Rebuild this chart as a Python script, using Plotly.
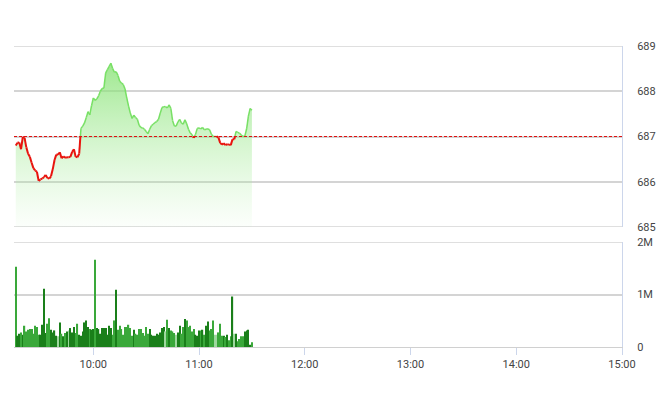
import plotly.graph_objects as go
import pandas as pd

# ---------------- data ----------------
DAY = "2024-01-02 "
START_TIME = "09:16"
REF_PRICE = 687.0

price = [
    686.80, 686.86, 686.87, 686.72, 686.99, 686.97, 686.76, 686.62, 686.55, 686.42,
    686.30, 686.25, 686.22, 686.02, 686.05, 686.07, 686.10, 686.15, 686.08, 686.07,
    686.12, 686.28, 686.48, 686.60, 686.60, 686.65, 686.52, 686.56, 686.53, 686.54,
    686.54, 686.55, 686.66, 686.72, 686.55, 686.54, 686.62, 687.18, 687.23, 687.30,
    687.42, 687.55, 687.48, 687.68, 687.85, 687.80, 687.83, 687.90, 688.00, 688.06,
    688.07, 688.40, 688.48, 688.55, 688.62, 688.50, 688.42, 688.43, 688.35, 688.22,
    688.18, 688.15, 688.05, 687.85, 687.67, 687.52, 687.40, 687.47, 687.42, 687.38,
    687.25, 687.20, 687.19, 687.16, 687.11, 687.06, 687.16, 687.24, 687.27, 687.31,
    687.33, 687.38, 687.52, 687.64, 687.66, 687.66, 687.63, 687.70, 687.62, 687.35,
    687.23, 687.23, 687.32, 687.38, 687.30, 687.27, 687.37, 687.28, 687.16, 687.08,
    687.04, 686.97, 687.05, 687.18, 687.19, 687.17, 687.20, 687.15, 687.16, 687.17,
    687.15, 687.05, 687.00, 687.00, 687.00, 686.98, 686.86, 686.82, 686.85, 686.81,
    686.83, 686.82, 686.81, 686.94, 686.94, 687.11, 687.09, 687.07, 687.03, 687.00,
    687.01, 687.17, 687.45, 687.62, 687.58,
]

volume = [
    1530000, 215000, 253000, 278000, 234000, 405000, 297000, 329000, 342000, 342000,
    253000, 405000, 380000, 234000, 234000, 424000, 1110000, 266000, 443000, 550000,
    329000, 278000, 316000, 215000, 203000, 468000, 253000, 203000, 266000, 297000,
    316000, 361000, 278000, 380000, 266000, 443000, 234000, 215000, 297000, 468000,
    506000, 380000, 342000, 329000, 342000, 1660000, 361000, 342000, 253000, 361000,
    361000, 361000, 234000, 405000, 361000, 234000, 506000, 1090000, 329000, 405000,
    342000, 234000, 380000, 380000, 424000, 361000, 215000, 329000, 253000, 234000,
    342000, 342000, 266000, 215000, 380000, 253000, 342000, 234000, 215000, 215000,
    253000, 234000, 278000, 361000, 380000, 297000, 519000, 361000, 316000, 297000,
    266000, 234000, 278000, 405000, 253000, 380000, 532000, 506000, 380000, 405000,
    297000, 342000, 234000, 215000, 316000, 316000, 329000, 234000, 405000, 487000,
    316000, 342000, 506000, 234000, 234000, 278000, 443000, 215000, 215000, 190000,
    234000, 127000, 203000, 962000, 253000, 253000, 108000, 152000, 203000, 203000,
    297000, 316000, 329000, 44000, 89000,
]

x_ticks = ["10:00", "11:00", "12:00", "13:00", "14:00", "15:00"]
x_range = ["09:15", "15:00"]
price_ticks = [685, 686, 687, 688, 689]
vol_ticks = [0, 1000000, 2000000]
vol_tick_text = ["0", "1M", "2M"]

# ---------------- derived ----------------
times = pd.date_range(DAY + START_TIME, periods=len(price), freq="1min")
tms = [t.timestamp() for t in times]


def split_segments(ts, ys, ref):
    """Split series into above/below reference segments, inserting crossings."""
    up_x, up_y, dn_x, dn_y = [], [], [], []
    for i in range(len(ys) - 1):
        x0, x1, y0, y1 = ts[i], ts[i + 1], ys[i], ys[i + 1]
        pts = [(x0, y0)]
        if (y0 - ref) * (y1 - ref) < 0:
            f = (ref - y0) / (y1 - y0)
            pts.append((x0 + f * (x1 - x0), ref))
        pts.append((x1, y1))
        for a, b in zip(pts[:-1], pts[1:]):
            mid = (a[1] + b[1]) / 2
            tx, ty = (up_x, up_y) if mid >= ref else (dn_x, dn_y)
            tx += [pd.Timestamp(a[0], unit="s"), pd.Timestamp(b[0], unit="s"), None]
            ty += [a[1], b[1], None]
    return up_x, up_y, dn_x, dn_y


up_x, up_y, dn_x, dn_y = split_segments(tms, price, REF_PRICE)

bar_colors = []
for i, p in enumerate(price):
    prev = price[i - 1] if i > 0 else REF_PRICE
    if p > prev:
        bar_colors.append("#1a7f1a")
    elif p < prev:
        bar_colors.append("#3aa83a")
    else:
        bar_colors.append("#9ed89e")

GRID = "#d4d4d4"

fig = go.Figure()

# area fill
fig.add_trace(go.Scatter(
    x=times, y=price, mode="lines", line=dict(width=0, color="rgba(0,0,0,0)"),
    fill="tozeroy",
    fillgradient=dict(type="vertical", start=685, stop=688.7,
                      colorscale=[[0, "rgba(180,240,170,0.05)"],
                                  [1, "rgba(130,225,110,0.8)"]]),
    hoverinfo="skip", showlegend=False, xaxis="x", yaxis="y",
))
fig.add_trace(go.Scatter(x=up_x, y=up_y, mode="lines",
                         line=dict(color="#78e065", width=1.5),
                         showlegend=False, xaxis="x", yaxis="y"))
fig.add_trace(go.Scatter(x=dn_x, y=dn_y, mode="lines",
                         line=dict(color="#e8140e", width=2),
                         showlegend=False, xaxis="x", yaxis="y"))

fig.add_trace(go.Bar(x=times, y=volume, marker=dict(color=bar_colors, line=dict(width=0)),
                     showlegend=False, xaxis="x2", yaxis="y2"))

# panel border gridlines at range edges (plotly skips edge gridlines)
for yref, yv in [("y", price_ticks[0]), ("y", price_ticks[-1]), ("y2", vol_ticks[-1])]:
    fig.add_shape(type="line", xref="x domain", x0=0, x1=1, yref=yref,
                  y0=yv, y1=yv, line=dict(color=GRID, width=1.5), layer="below")

fig.add_shape(type="line", xref="x domain", x0=0, x1=1, yref="y",
              y0=REF_PRICE, y1=REF_PRICE,
              line=dict(color="#e01010", width=1, dash="3px,2px"), layer="above")

rng = [DAY + x_range[0], DAY + x_range[1]]
tickvals = [DAY + t for t in x_ticks]
axis_font = dict(family="Roboto, Arial, sans-serif", size=11, color="#444")

fig.update_layout(
    width=660, height=412,
    margin=dict(l=14, r=38, t=46, b=65, autoexpand=False),
    paper_bgcolor="white", plot_bgcolor="white",
    bargap=0.3,
    font=axis_font,
    xaxis=dict(type="date", range=rng, domain=[0, 1], anchor="y",
               showticklabels=False, showgrid=False, zeroline=False,
               tickvals=tickvals, ticks=""),
    xaxis2=dict(type="date", range=rng, domain=[0, 1], anchor="y2",
                matches="x", tickvals=tickvals, ticktext=x_ticks,
                showgrid=False, zeroline=False, showline=True,
                linecolor="#d0d0d0", linewidth=1,
                ticks="outside", ticklen=7, tickcolor="#ccd6eb", tickwidth=1,
                tickfont=axis_font),
    yaxis=dict(domain=[0.3987, 1], range=[685, 689], side="right",
               tickvals=price_ticks, showgrid=True, gridcolor=GRID,
               gridwidth=1.5, zeroline=False, showline=True,
               linecolor="#ccd6eb", linewidth=1, ticks="",
               ticklabelstandoff=12, tickfont=axis_font),
    yaxis2=dict(domain=[0, 0.3488], range=[0, 2000000], side="right",
                tickvals=vol_ticks, ticktext=vol_tick_text, showgrid=True,
                gridcolor=GRID, gridwidth=1.5, zeroline=False,
                showline=True, linecolor="#ccd6eb", linewidth=1, ticks="",
                ticklabelstandoff=12, tickfont=axis_font),
)

fig.write_html(
    "out.html",
    config={"displayModeBar": False},
    post_script="document.body.style.margin='0';document.body.style.overflow='hidden';",
)
